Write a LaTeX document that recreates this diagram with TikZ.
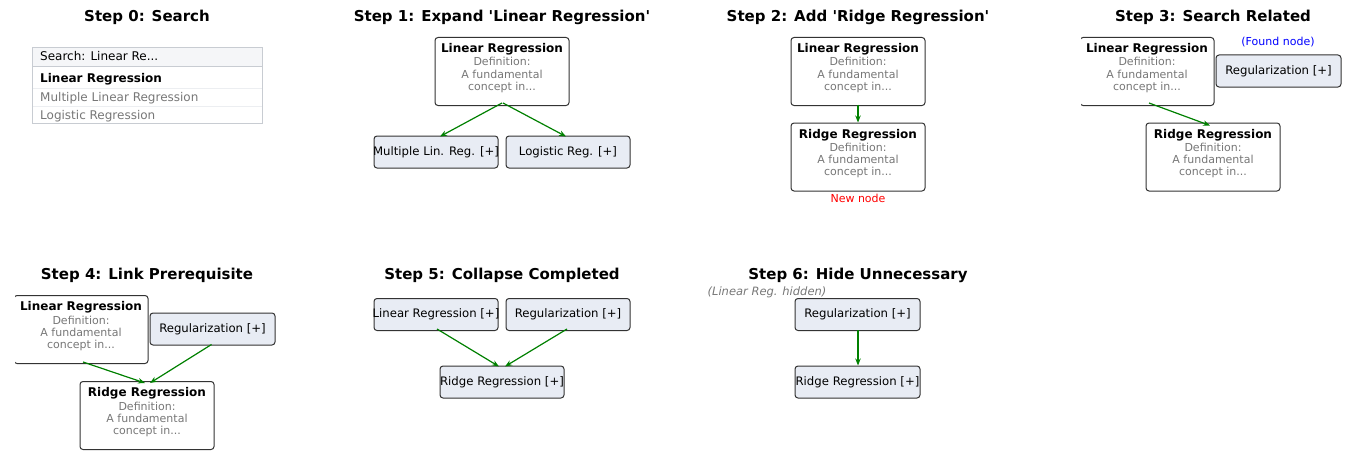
\documentclass[tikz,border=0pt]{standalone}
\usepackage{fontspec}
\setmainfont{DejaVu Sans}
\usetikzlibrary{arrows.meta,calc}
\definecolor{boxedge}{HTML}{333333}
\definecolor{collfill}{HTML}{E8ECF4}
\definecolor{greytext}{HTML}{777777}
\definecolor{arrowgreen}{HTML}{008000}
\definecolor{searchfill}{HTML}{F5F6F8}
\definecolor{searchedge}{HTML}{C8CCD2}
\definecolor{rowline}{HTML}{ECEEF1}
\newcommand\fsz[1]{\fontsize{#1}{#1}\selectfont}
\newcommand\ov[1]{\makebox[0pt][c]{#1}}
\newcommand\detailbox[4]{%
  \node[detail, anchor=north] (#1) at (#2,#3) {};
  \node[dtitle] (#1-t) at ($(#1.north)+(0,15.5)$) {#4};
  \node[dgrey] (#1-a) at ($(#1.north)+(0,29)$) {Definition:};
  \node[dgrey] (#1-b) at ($(#1.north)+(0,41)$) {A fundamental};
  \node[dgrey] (#1-c) at ($(#1.north)+(0,53)$) {concept in...};
}
\begin{document}
\begin{tikzpicture}[x=1pt,y=-1pt,
  detail/.style={draw=boxedge, line width=1pt, rounded corners=3pt, fill=white,
    minimum width=134pt, minimum height=68pt, inner sep=0pt},
  coll/.style={draw=boxedge, line width=1pt, rounded corners=3pt, fill=collfill,
    minimum width=124pt, minimum height=32pt, inner sep=0pt, font=\fsz{11.7}},
  dtitle/.style={anchor=base, inner sep=0pt, font=\fsz{12}\bfseries},
  dgrey/.style={anchor=base, inner sep=0pt, font=\fsz{11}, text=greytext},
  steptitle/.style={anchor=base, inner sep=0pt, font=\fsz{15}\bfseries},
  note/.style={anchor=base, inner sep=0pt, font=\fsz{11}},
  rowtext/.style={anchor=base west, inner sep=0pt, font=\fsz{12}},
  link/.style={draw=arrowgreen, line width=1.2pt, -{Stealth[length=7pt,width=5.5pt]}}
]
\useasboundingbox (0,0) rectangle (1349,452);

% ---------- Step 0 ----------
\node[steptitle] (t0) at (147,21.5) {Step 0: Search};
\node[draw=searchedge, line width=0.8pt, fill=white, minimum width=230pt,
  minimum height=76pt, inner sep=0pt, anchor=north west] (s0box) at (32,47) {};
\fill[searchfill] ($(s0box.north west)+(0.5,0.5)$) rectangle ($(s0box.north east)+(-0.5,19)$);
\draw[searchedge, line width=0.8pt] ($(s0box.north west)+(0,19)$) -- ($(s0box.north east)+(0,19)$);
\draw[rowline, line width=0.8pt] ($(s0box.north west)+(0,41)$) -- ($(s0box.north east)+(0,41)$);
\draw[rowline, line width=0.8pt] ($(s0box.north west)+(0,59)$) -- ($(s0box.north east)+(0,59)$);
\draw[searchedge, line width=0.8pt] (s0box.north west) rectangle (s0box.south east);
\node[rowtext] (s0q) at (40,60.5) {Search: Linear Re...};
\node[rowtext, font=\fsz{12}\bfseries] (s0r1) at (40,82.5) {Linear Regression};
\node[rowtext, text=greytext] (s0r2) at (40,101.5) {Multiple Linear Regression};
\node[rowtext, text=greytext] (s0r3) at (40,119.5) {Logistic Regression};

% ---------- Step 1 ----------
\node[steptitle] (t1) at (502,21.5) {Step 1: Expand \textquotesingle Linear Regression\textquotesingle};
\detailbox{s1lr}{502}{37}{Linear Regression}
\node[coll] (s1m) at (436,152) {\ov{Multiple Lin. Reg. [+]}};
\node[coll] (s1l) at (568,152) {\ov{Logistic Reg. [+]}};
\draw[link] ($(s1lr.south)+(0,-3)$) -- ($(s1m.north)+(4,1)$);
\draw[link] ($(s1lr.south)+(1,-3)$) -- ($(s1l.north)+(-2,1)$);

% ---------- Step 2 ----------
\node[steptitle] (t2) at (858,21.5) {Step 2: Add \textquotesingle Ridge Regression\textquotesingle};
\detailbox{s2lr}{858}{37}{Linear Regression}
\detailbox{s2rr}{858}{122.5}{Ridge Regression}
\draw[link] ($(s2lr.south)+(0,-1.5)$) -- (s2rr.north);
\node[note, text=red] (s2new) at (858,202) {New node};

% ---------- Step 3 ----------
\node[steptitle] (t3) at (1213,21.5) {Step 3: Search Related};
\begin{scope}
  \clip (1081,30) rectangle (1349,120);
  \detailbox{s3lr}{1147}{37}{Linear Regression}
\end{scope}
\node[coll, minimum width=125pt] (s3reg) at (1278.5,71) {\ov{Regularization [+]}};
\node[note, text=blue] (s3found) at (1278,46) {(Found node)};
\detailbox{s3rr}{1213}{122.5}{Ridge Regression}
\draw[link] ($(s3lr.south)+(2,-3)$) -- ($(s3rr.north)+(-3,3)$);

% ---------- Step 4 ----------
\node[steptitle] (t4) at (147,279.5) {Step 4: Link Prerequisite};
\begin{scope}
  \clip (15,288) rectangle (300,370);
  \detailbox{s4lr}{81}{295}{Linear Regression}
\end{scope}
\node[coll, minimum width=125pt] (s4reg) at (212.5,329) {\ov{Regularization [+]}};
\detailbox{s4rr}{147}{381}{Ridge Regression}
\draw[link] ($(s4lr.south)+(2,-2)$) -- ($(s4rr.north)+(-2,2)$);
\draw[link] ($(s4reg.south)+(-1,-1)$) -- ($(s4rr.north)+(3,2)$);

% ---------- Step 5 ----------
\node[steptitle] (t5) at (502,279.5) {Step 5: Collapse Completed};
\node[coll] (s5lr) at (436,314.5) {\ov{Linear Regression [+]}};
\node[coll] (s5reg) at (568,314.5) {\ov{Regularization [+]}};
\node[coll] (s5rr) at (502,382) {\ov{Ridge Regression [+]}};
\draw[link] ($(s5lr.south)+(1,-2)$) -- ($(s5rr.north)+(-3,1)$);
\draw[link] ($(s5reg.south)+(-1,-2)$) -- ($(s5rr.north)+(3,1)$);

% ---------- Step 6 ----------
\node[steptitle] (t6) at (858,279.5) {Step 6: Hide Unnecessary};
\node[note, font=\fsz{11.5}\itshape, text=greytext] (s6hid) at (767,295.5) {(Linear Reg. hidden)};
\node[coll, minimum width=125pt] (s6reg) at (857.5,314.5) {\ov{Regularization [+]}};
\node[coll, minimum width=125pt] (s6rr) at (857.5,382) {\ov{Ridge Regression [+]}};
\draw[link] ($(s6reg.south)+(0.5,-1)$) -- ($(s6rr.north)+(0.5,0)$);
\end{tikzpicture}
\end{document}
